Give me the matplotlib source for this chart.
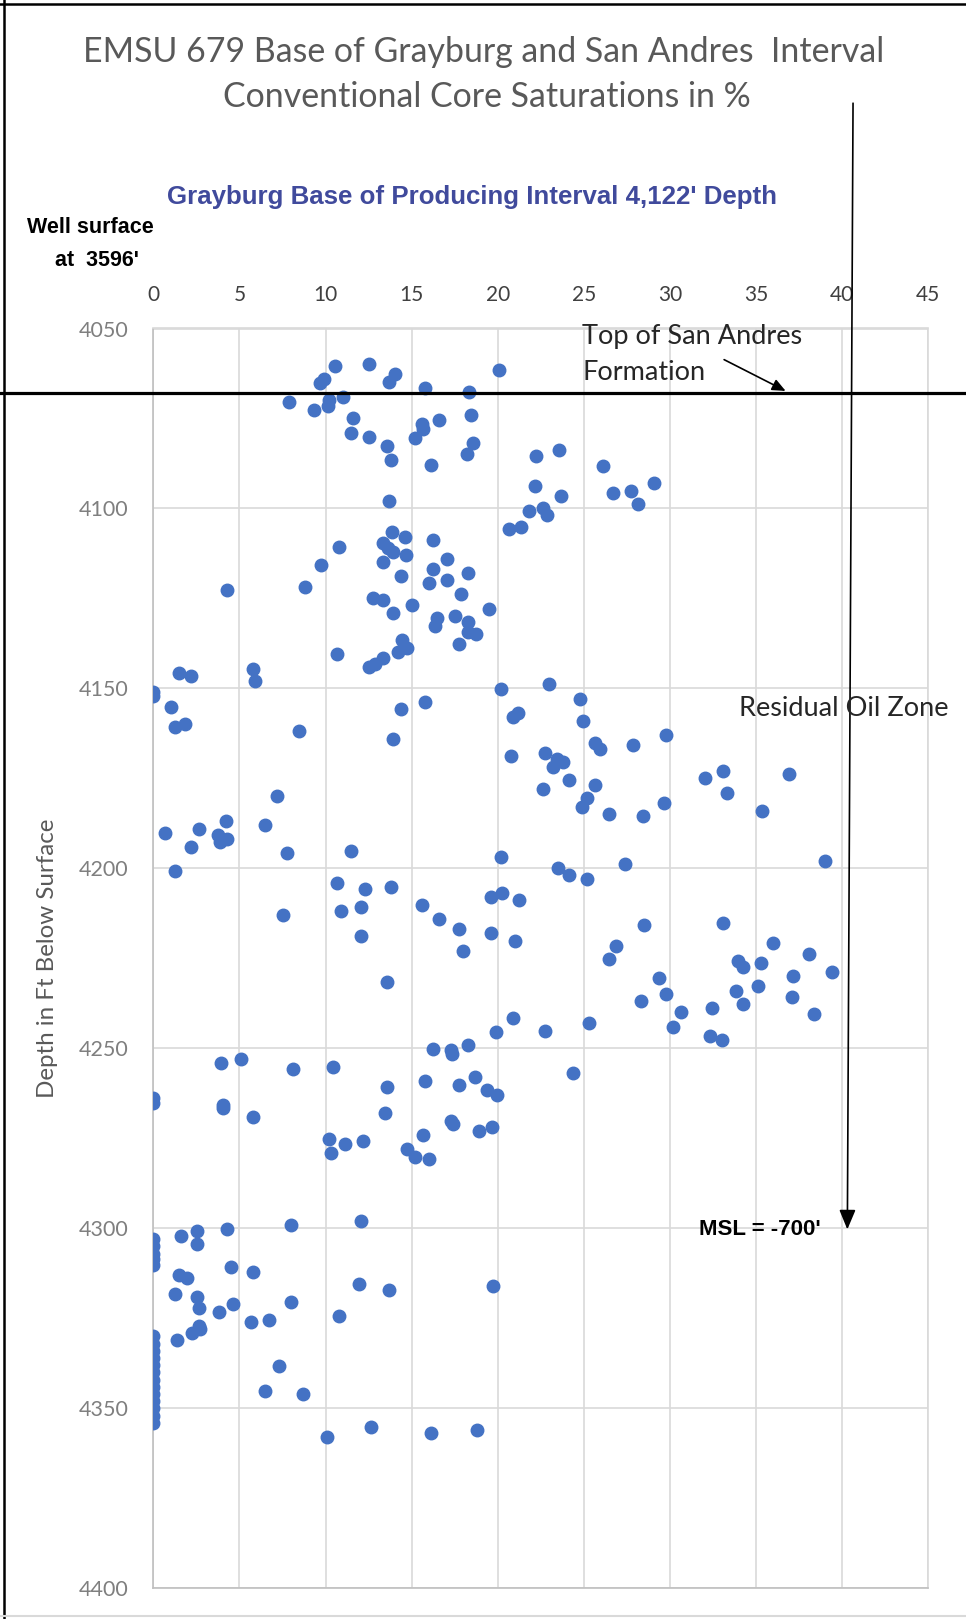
import matplotlib.pyplot as plt
from matplotlib.lines import Line2D

# core saturation (%) and depth (ft below surface)
saturation = [
    10.55, 12.5, 9.93, 9.68, 14.03, 13.7, 15.78, 18.35, 20.07, 7.88,
    9.35, 10.12, 10.22, 11.03, 11.6, 11.46, 12.5, 13.55, 13.82, 15.58,
    15.64, 15.2, 16.59, 16.12, 18.45, 18.54, 18.23, 13.7, 22.2, 22.16,
    21.8, 20.65, 21.35, 13.84, 14.6, 16.22, 10.78, 13.32, 13.65, 13.94,
    14.7, 13.36, 17.03, 16.22, 18.25, 9.74, 14.4, 16.03, 17.07, 4.3,
    8.81, 17.85, 12.78, 13.36, 13.94, 15.0, 19.49, 16.45, 16.36, 17.52,
    18.25, 18.29, 18.74, 17.77, 14.42, 14.71, 14.23, 10.69, 13.36, 12.5,
    12.87,
    23.58, 23.7, 22.65, 22.88, 26.12, 26.72, 27.74, 28.13, 29.06,
    0, 0, 1.51, 2.19, 5.81, 5.9, 1.0, 1.26, 1.84, 8.48,
    14.4, 15.78, 13.94, 20.19, 20.9, 21.2, 20.77, 7.2, 0.68, 2.65,
    4.2, 3.77, 3.87, 4.3, 2.17, 6.48, 7.78, 11.46, 20.19, 1.26,
    7.51, 10.69, 12.31, 13.82, 10.9, 12.06, 12.06, 15.58, 16.61, 17.77,
    18.0, 19.61, 20.23, 21.25, 19.61, 21.0,
    23.0, 24.78, 24.97, 25.65, 25.94, 27.87, 29.75, 22.77, 23.43, 23.81,
    23.23, 24.16, 22.65, 25.67, 25.16, 24.87, 26.48, 28.45, 29.63, 32.06,
    33.1, 33.33, 36.93, 35.33, 27.41, 39.0, 23.52, 24.16, 25.2, 28.48,
    33.1, 26.85, 26.48, 36.01, 38.1, 33.93, 34.25, 35.3, 39.39,
    13.57, 20.9, 19.88, 16.22, 17.27, 17.32, 18.25, 3.91, 5.09, 8.09,
    10.41, 13.57, 15.78, 17.77, 18.68, 19.4, 19.98, 0, 0, 4.03,
    4.07, 5.81, 13.47, 17.27, 17.42, 18.91, 19.65, 15.64, 10.2, 10.32,
    11.13, 12.2, 14.71, 15.2, 16.03, 12.06, 7.99, 0, 0, 0,
    0, 0, 1.61, 2.56, 2.56, 4.3, 4.51, 5.81, 1.51, 1.94,
    29.36, 29.75, 28.32, 30.66, 30.2, 32.43, 32.33, 33.0, 33.82, 35.1,
    34.26, 37.17, 37.07, 38.37, 22.77, 25.32, 24.39,
    1.26, 2.56, 2.67, 3.81, 4.65, 5.67, 6.74, 8.0, 10.78, 11.94,
    13.7, 19.74, 1.39, 2.23, 2.71, 2.67, 7.32, 6.48, 8.67,
    0, 0, 0, 0, 0, 0, 0, 0, 0, 0, 0, 0, 0,
    10.1, 12.66, 16.14, 18.82,
]

depth = [
    4060.3, 4059.9, 4063.9, 4065.2, 4062.7, 4064.8, 4066.6, 4067.6, 4061.5, 4070.5,
    4072.7, 4071.5, 4069.9, 4069.0, 4075.0, 4078.9, 4080.1, 4082.7, 4086.6, 4076.6,
    4077.9, 4080.5, 4075.4, 4087.8, 4073.9, 4081.7, 4085.0, 4097.9, 4085.4, 4093.8,
    4100.6, 4105.6, 4105.1, 4106.5, 4107.9, 4108.8, 4110.7, 4109.7, 4111.1, 4112.0,
    4112.8, 4115.0, 4113.9, 4116.7, 4117.8, 4115.6, 4118.8, 4120.7, 4119.9, 4122.7,
    4121.8, 4123.9, 4125.0, 4125.5, 4129.0, 4126.7, 4127.8, 4130.3, 4132.7, 4129.9,
    4131.5, 4134.3, 4134.9, 4137.7, 4136.6, 4138.9, 4139.9, 4140.3, 4141.5, 4144.0,
    4143.1,
    4083.8, 4096.6, 4100.0, 4101.7, 4088.2, 4095.6, 4095.1, 4098.8, 4092.8,
    4151.0, 4152.0, 4145.6, 4146.6, 4144.7, 4147.9, 4155.1, 4160.6, 4160.0, 4161.8,
    4155.6, 4153.9, 4164.0, 4150.1, 4157.9, 4156.8, 4168.9, 4179.9, 4190.1, 4189.0,
    4186.7, 4190.6, 4192.7, 4191.8, 4194.0, 4187.8, 4195.6, 4195.1, 4196.9, 4200.6,
    4213.0, 4204.0, 4205.6, 4205.1, 4211.8, 4210.6, 4218.9, 4210.2, 4214.0, 4216.8,
    4223.0, 4207.9, 4206.7, 4208.9, 4217.9, 4220.1,
    4148.9, 4152.9, 4159.0, 4165.1, 4166.7, 4165.6, 4162.9, 4167.9, 4169.7, 4170.5,
    4171.8, 4175.5, 4177.8, 4176.7, 4180.4, 4182.9, 4185.0, 4185.5, 4181.8, 4174.9,
    4172.8, 4179.0, 4173.9, 4184.0, 4198.9, 4197.9, 4200.0, 4201.9, 4202.9, 4215.6,
    4215.1, 4221.6, 4225.2, 4220.6, 4223.9, 4225.6, 4227.4, 4226.4, 4228.8,
    4231.6, 4241.6, 4245.5, 4250.1, 4250.5, 4251.6, 4249.0, 4254.0, 4252.9, 4255.6,
    4255.1, 4260.7, 4259.0, 4260.1, 4257.9, 4261.6, 4263.0, 4263.9, 4265.3, 4265.8,
    4266.7, 4269.0, 4267.9, 4270.1, 4270.9, 4272.9, 4271.8, 4274.0, 4275.1, 4279.0,
    4276.7, 4275.7, 4277.9, 4280.2, 4280.8, 4298.0, 4299.1, 4303.0, 4305.0, 4307.0,
    4308.5, 4310.2, 4302.0, 4300.6, 4304.3, 4300.2, 4310.8, 4312.0, 4312.9, 4313.8,
    4230.5, 4235.0, 4236.7, 4240.0, 4244.0, 4238.9, 4246.6, 4247.7, 4234.0, 4232.6,
    4237.7, 4229.9, 4235.6, 4240.5, 4245.1, 4242.9, 4256.8,
    4318.2, 4319.1, 4322.1, 4323.2, 4320.9, 4325.9, 4325.5, 4320.4, 4324.4, 4315.4,
    4317.2, 4316.1, 4331.0, 4329.2, 4328.0, 4327.1, 4338.2, 4345.3, 4346.0,
    4330, 4332, 4334, 4336, 4338, 4340, 4342, 4344, 4346, 4348, 4350, 4352, 4354,
    4358.0, 4355.3, 4356.9, 4355.9,
]

x_ticks = [0, 5, 10, 15, 20, 25, 30, 35, 40, 45]
y_ticks = [4050, 4100, 4150, 4200, 4250, 4300, 4350, 4400]

san_andres_top = 4068
msl_depth = 4300.3

plt.rcParams['font.family'] = ['Lato', 'DejaVu Sans']
narrow_bold = ['Liberation Sans Narrow', 'Liberation Sans']

fig = plt.figure(figsize=(9.66, 16.19), dpi=100)
ax = fig.add_axes([153.3 / 966, 1 - 1588.3 / 1619, 775 / 966, 1259.8 / 1619])

ax.plot(saturation, depth, 'o', color='#4472C4', ms=9, mec='#4472C4', zorder=3)

ax.set_xlim(0, 45)
ax.set_ylim(4400, 4050)
ax.set_xticks(x_ticks)
ax.set_yticks(y_ticks)
ax.xaxis.tick_top()
ax.tick_params(axis='x', length=0, pad=17, labelsize=15, labelcolor='#404040')
ax.tick_params(axis='y', length=0, pad=18, labelsize=15.5, labelcolor='#7F7F7F')
ax.grid(True, color='#D9D9D9', lw=1.2)
ax.set_axisbelow(True)
for side in ['top', 'right']:
    ax.spines[side].set_color('#D9D9D9')
for side in ['left', 'bottom']:
    ax.spines[side].set_color('#BFBFBF')
for s in ax.spines.values():
    s.set_linewidth(1.2)

# titles
fig.text(0.501, 1 - 51.7 / 1619, "EMSU 679 Base of Grayburg and San Andres  Interval",
         ha='center', va='center', fontsize=24.4, color='#595959')
fig.text(0.504, 1 - 96.7 / 1619, "Conventional Core Saturations in %",
         ha='center', va='center', fontsize=24.4, color='#595959')
fig.text(472 / 966, 1 - 196.7 / 1619, "Grayburg Base of Producing Interval 4,122' Depth",
         ha='center', va='center', fontsize=18.6, fontweight='bold', color='#404A9C',
         family=narrow_bold)
fig.text(90.5 / 966, 1 - 227.7 / 1619, "Well surface", ha='center', va='center',
         fontsize=15.5, fontweight='bold', color='black', family=narrow_bold)
fig.text(96.7 / 966, 1 - 261 / 1619, "at  3596'", ha='center', va='center',
         fontsize=15.5, fontweight='bold', color='black', family=narrow_bold)
fig.text(48 / 966, 1 - 958 / 1619, "Depth in Ft Below Surface", rotation=90,
         ha='center', va='center', fontsize=17.4, color='#595959')

# Top of San Andres marker
ax.axhline(san_andres_top, xmin=-0.2, xmax=1.06, color='black', lw=2.3,
           clip_on=False, zorder=4)
ax.text(24.9, 4052.3, "Top of San Andres", ha='left', va='center',
        fontsize=19.5, color='#262626', zorder=5)
ax.text(24.9, 4062.2, "Formation", ha='left', va='center',
        fontsize=19.5, color='#262626', zorder=5)
ax.annotate("", xy=(36.86, 4067.7), xytext=(33.0, 4058.3),
            arrowprops=dict(arrowstyle='-|>,head_length=0.8,head_width=0.35',
                            color='black', lw=1.2, mutation_scale=10))

ax.text(34.03, 4155.6, "Residual Oil Zone", ha='left', va='center',
        fontsize=19.5, color='#262626', zorder=5)

# Arrow down to MSL
ax.annotate("", xy=(40.3, msl_depth), xytext=(40.63, 3987.4),
            annotation_clip=False,
            arrowprops=dict(arrowstyle='-|>,head_length=0.6,head_width=0.25',
                            color='black', lw=1.2, mutation_scale=20,
                            shrinkA=0, shrinkB=0))
ax.text(38.75, msl_depth, "MSL = -700'", ha='right', va='center',
        fontsize=16, fontweight='bold', color='black', family=narrow_bold, zorder=5)

# frame lines of the original picture
fig.add_artist(Line2D([4 / 966, 4 / 966], [0, 1], color='black', lw=1.8))
fig.add_artist(Line2D([0, 1], [1 - 4 / 1619, 1 - 4 / 1619], color='black', lw=1.8))
fig.add_artist(Line2D([0, 1], [1 - 1616 / 1619, 1 - 1616 / 1619], color='#D9D9D9', lw=1.5))

fig.savefig("out.png", dpi=100)
